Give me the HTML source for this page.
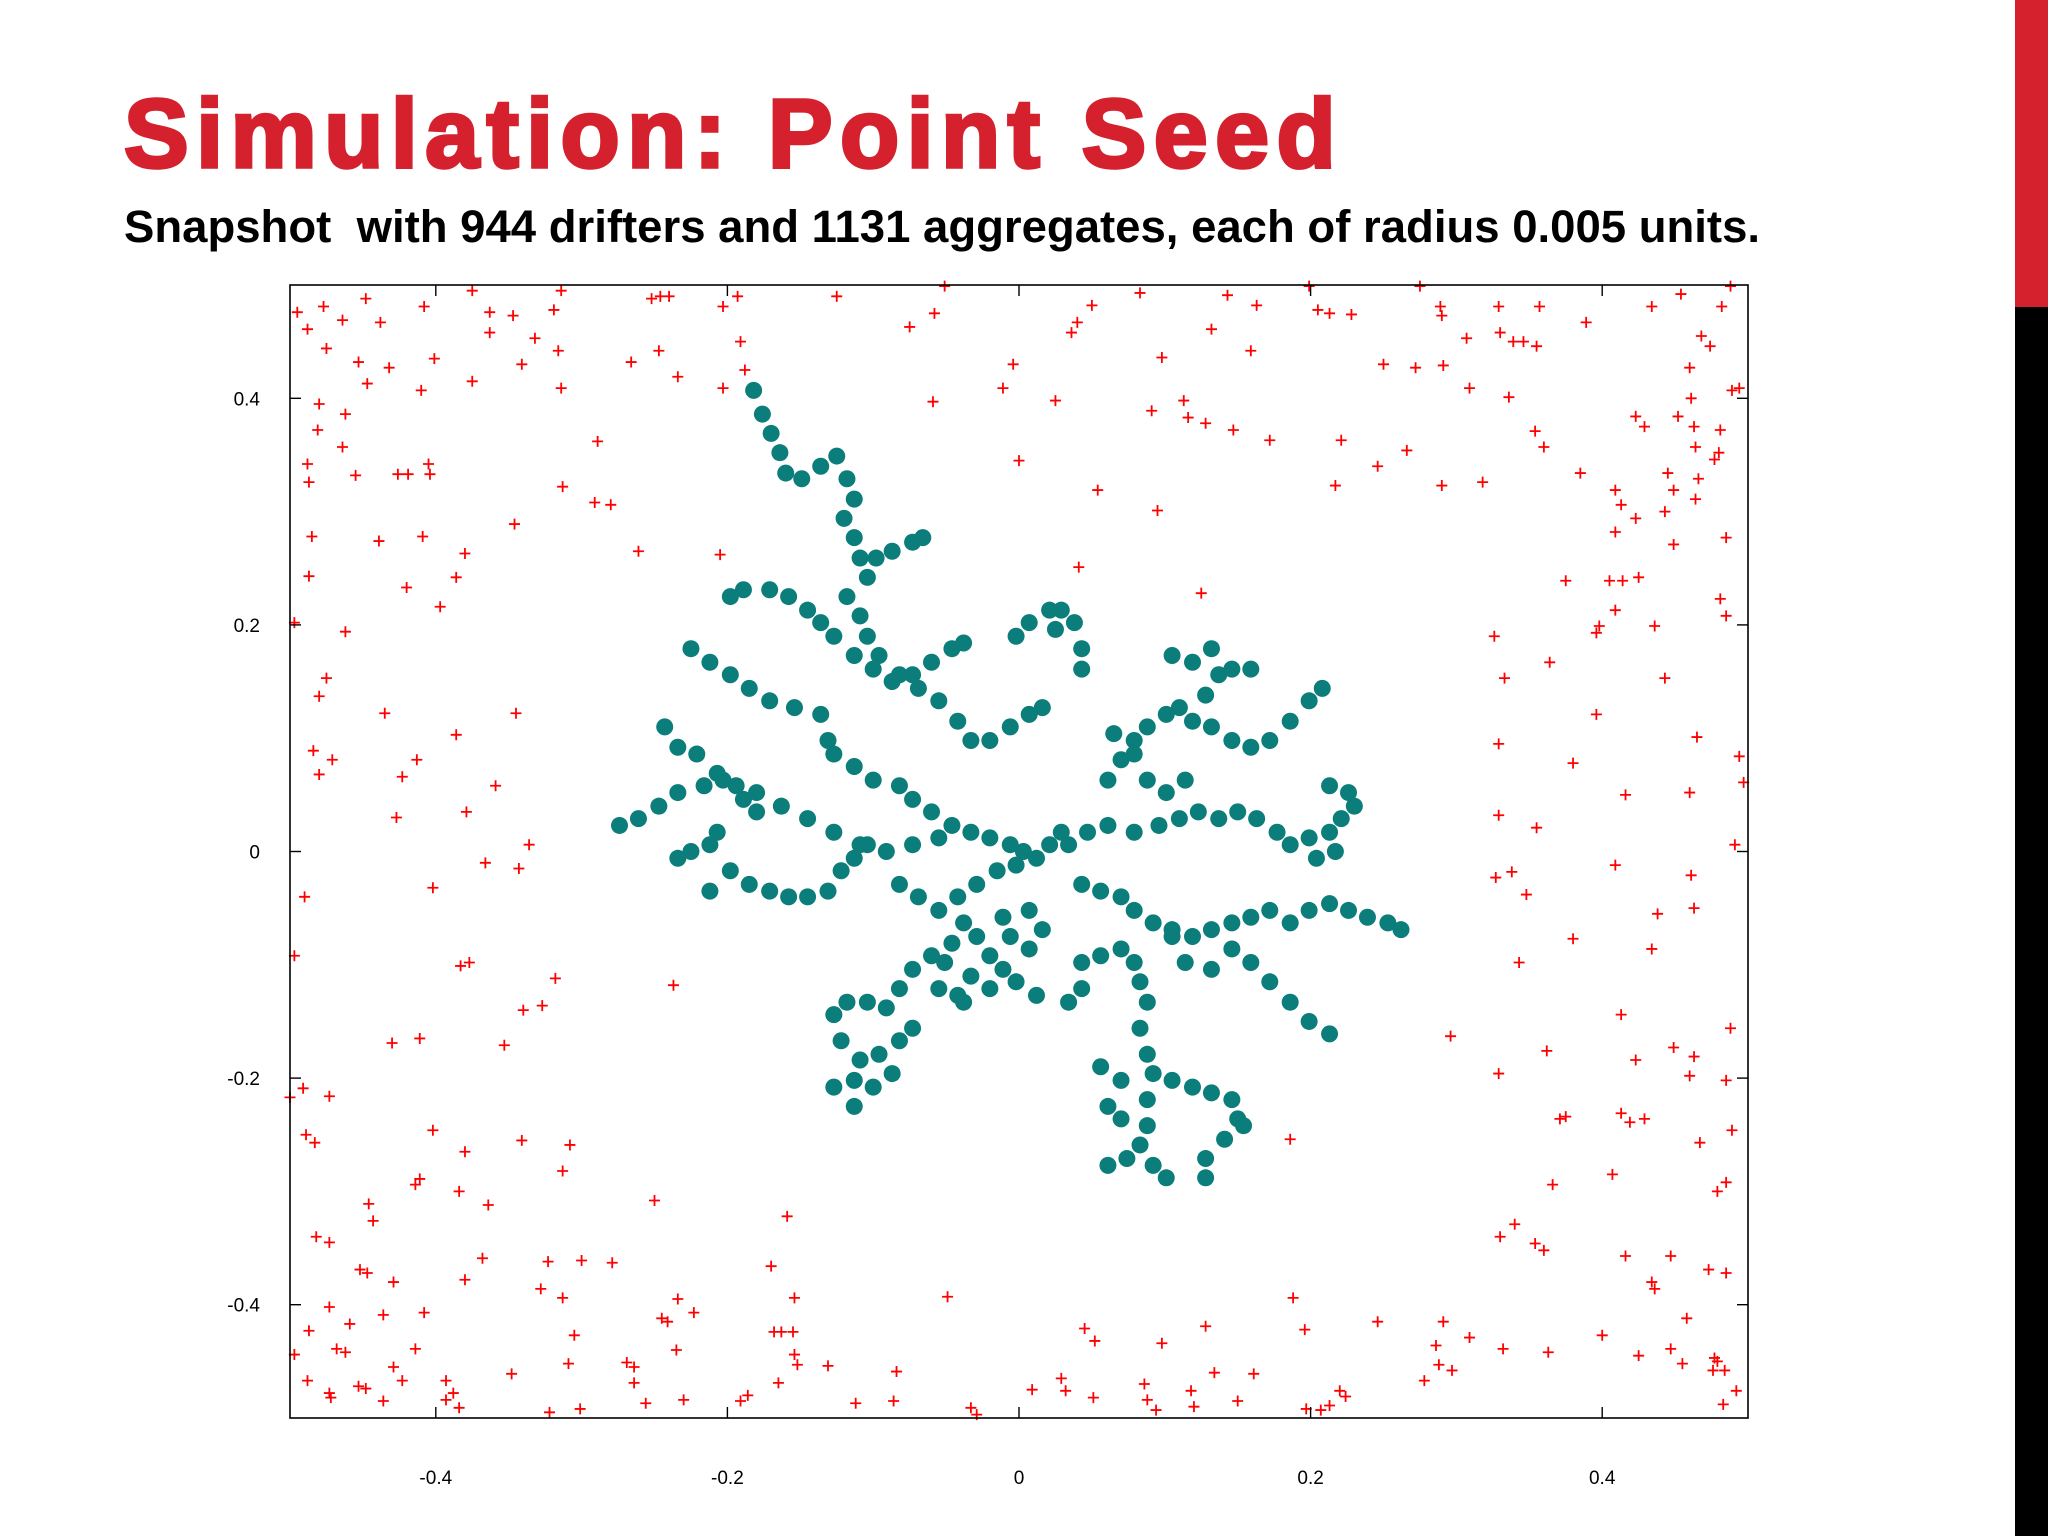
<!DOCTYPE html>
<html><head><meta charset="utf-8">
<style>
html,body{margin:0;padding:0;background:#fff;}
body{width:2048px;height:1536px;position:relative;overflow:hidden;font-family:"Liberation Sans",Arial,sans-serif;}
#title{position:absolute;left:124px;top:85px;font-size:97px;font-weight:bold;color:#d4212d;letter-spacing:7.4px;line-height:1;white-space:pre;margin:0;-webkit-text-stroke:3.5px #d4212d;}
#subtitle{position:absolute;left:124px;top:204px;font-size:45.5px;font-weight:bold;color:#000;white-space:pre;line-height:1;margin:0;}
#bar-red{position:absolute;left:2015px;top:0;width:33px;height:307px;background:#d4212d;}
#bar-black{position:absolute;left:2015px;top:307px;width:33px;height:1229px;background:#000;}
svg{position:absolute;left:0;top:0;}
</style></head>
<body>
<h1 id="title">Simulation: Point Seed</h1>
<p id="subtitle">Snapshot  with 944 drifters and 1131 aggregates, each of radius 0.005 units.</p>
<div id="bar-red"></div>
<div id="bar-black"></div>
<svg id="chart" width="2048" height="1536"></svg>
<script>
const xTicks=[-0.4,-0.2,0,0.2,0.4];
const yTicks=[-0.4,-0.2,0,0.2,0.4];
const xTickLabels=["-0.4","-0.2","0","0.2","0.4"];
const yTickLabels=["-0.4","-0.2","0","0.2","0.4"];
const aggX=[-.182,-.176,-.170,-.164,-.160,-.149,-.136,-.125,-.118,-.113,-.120,-.113,-.109,-.104,-.098,-.087,-.073,-.066,-.118,-.109,-.104,-.096,-.082,-.069,-.055,-.042,-.033,-.020,-.006,.007,.016,-.002,.007,.021,.029,.038,.043,.043,.025,
-.198,-.189,-.171,-.158,-.145,-.136,-.127,-.113,-.100,-.087,-.073,-.060,-.046,-.038,
-.225,-.212,-.198,-.185,-.171,-.154,-.136,-.131,-.127,-.113,-.100,-.082,-.073,-.060,-.046,-.033,-.020,-.006,.003,
-.243,-.234,-.221,-.207,-.194,-.180,-.163,-.145,-.127,-.109,-.091,-.073,-.055,
-.274,-.261,-.247,-.234,-.216,-.203,-.189,-.180,-.234,-.225,-.212,-.207,-.212,-.198,
-.185,-.171,-.158,-.145,-.131,-.122,-.113,-.104,
-.082,-.069,-.055,-.042,-.029,-.015,-.002,.012,.021,.029,-.038,-.029,-.020,-.011,.007,.016,.007,-.011,-.046,-.060,-.073,-.082,-.091,-.104,-.118,-.127,-.122,-.109,-.096,-.082,-.073,-.087,-.100,-.113,-.127,-.113,-.055,-.042,-.033,-.002,.012,-.006,-.051,-.038,-.020,
.034,.047,.061,.079,.096,.110,.123,.137,.150,.163,.177,.186,.199,.213,.221,.230,.226,.213,.204,.217,
.061,.070,.079,.088,.101,.110,.119,.132,.146,.159,.172,.186,.199,.208,.105,.119,.132,.137,.146,.159,.128,.065,.079,.088,.101,.114,
.043,.056,.070,.079,.092,.105,.119,.132,.146,.159,.172,.186,.199,.213,.226,.239,.253,.262,.146,.159,.172,.186,.199,.213,
.043,.056,.070,.079,.083,.088,.083,.088,.092,.088,.088,.083,.074,.061,.092,.101,.056,.070,.061,.070,.105,.119,.132,.146,.150,.141,.128,.128,.154,.034,.043,.105,.114,.132];
const aggY=[.407,.386,.369,.352,.334,.329,.340,.349,.329,.311,.294,.277,.259,.242,.259,.265,.273,.277,.225,.208,.190,.173,.156,.144,.133,.115,.098,.098,.110,.121,.127,.190,.202,.213,.213,.202,.179,.161,.196,
.225,.231,.231,.225,.213,.202,.190,.173,.161,.150,.156,.167,.179,.184,
.179,.167,.156,.144,.133,.127,.121,.098,.086,.075,.063,.058,.046,.035,.023,.017,.012,.006,0,
.110,.092,.086,.069,.058,.052,.040,.029,.017,.006,0,.006,.012,
.023,.029,.040,.052,.058,.063,.046,.035,-.006,0,.006,.017,-.035,-.017,
-.029,-.035,-.040,-.040,-.035,-.017,-.006,.006,
-.029,-.040,-.052,-.040,-.029,-.017,-.012,-.006,.006,.017,-.063,-.075,-.092,-.104,-.086,-.069,-.052,-.058,-.081,-.092,-.104,-.121,-.138,-.133,-.133,-.144,-.167,-.184,-.179,-.167,-.156,-.196,-.208,-.202,-.208,-.225,-.121,-.127,-.110,-.115,-.127,-.075,-.098,-.133,-.121,
.006,.017,.023,.017,.023,.029,.035,.029,.035,.029,.017,.006,.012,.017,.029,.040,.052,.058,-.006,0,
.063,.081,.098,.110,.121,.127,.115,.110,.098,.092,.098,.115,.133,.144,.173,.167,.179,.156,.161,.161,.138,.104,.086,.063,.052,.063,
-.029,-.035,-.040,-.052,-.063,-.069,-.075,-.069,-.063,-.058,-.052,-.063,-.052,-.046,-.052,-.058,-.063,-.069,-.086,-.098,-.115,-.133,-.150,-.161,
-.098,-.092,-.086,-.098,-.115,-.133,-.156,-.179,-.196,-.219,-.242,-.259,-.271,-.277,-.277,-.288,-.190,-.202,-.225,-.236,-.202,-.208,-.213,-.219,-.236,-.254,-.271,-.288,-.242,-.133,-.121,-.075,-.098,-.104];
const driftX=[-.495,-.488,-.477,-.464,-.448,-.438,-.408,-.375,-.363,-.347,-.314,-.319,-.475,-.453,-.432,-.401,-.363,-.332,-.316,-.341,-.447,-.410,-.375,-.314,-.480,-.462,-.481,-.464,-.488,-.455,-.426,-.419,-.405,-.404,-.487,-.313,-.289,-.291,-.280,-.346,-.485,-.439,-.409,-.380,-.261,-.487,-.420,-.386,-.397,-.497,-.462,-.205,-.475,-.480,-.435,-.345,-.484,-.471,-.480,-.413,-.423,-.386,-.359,-.427,-.379,-.336,-.366,-.343,-.490,-.402,-.497,-.377,-.383,-.318,-.340,-.327,-.237,-.430,-.411,-.353,-.500,-.491,-.473,-.489,-.483,-.402,-.380,-.411,-.414,-.384,-.364,-.341,-.308,-.313,-.446,-.443,-.482,-.473,-.250,-.159,-.452,-.447,-.429,-.368,-.323,-.300,-.279,-.328,-.313,-.170,-.154,-.049,-.473,-.459,-.487,-.436,-.408,-.380,-.305,-.245,-.234,-.223,-.241,-.168,-.163,-.155,-.497,-.468,-.462,-.414,-.429,-.423,-.453,-.448,-.473,-.488,-.348,-.309,-.269,-.264,-.235,-.154,-.152,-.131,-.084,-.393,-.388,-.393,-.472,-.436,-.384,-.256,-.230,-.264,-.186,-.191,-.112,-.086,-.165,-.322,-.301,-.033,-.029,
-.252,-.246,-.240,-.203,-.193,-.125,-.075,-.058,-.051,-.203,-.188,-.266,-.247,-.234,-.191,-.059,-.011,-.004,.025,.036,.040,.050,.083,.054,0,.041,.095,.143,.163,.199,.205,.213,.228,.275,.289,.290,.329,.357,.389,.307,.330,.339,.346,.355,.250,.272,.291,.309,.336,.113,.116,.128,.147,.098,.159,.132,.172,.221,.246,.266,.290,.318,.217,.091,.125,
.434,.454,.482,.488,.468,.474,.460,.489,.494,.461,.452,.423,.429,.463,.481,.464,.480,.477,.354,.360,.385,.409,.413,.423,.445,.449,.464,.443,.466,.485,.449,.409,.375,.405,.414,.425,.409,.398,.396,.436,.481,.485,.326,.364,.333,.443,.396,.329,.465,.494,.380,.497,.416,.460,.329,.355,.409,.461,.491,.327,.338,.348,.438,.463,.380,.434,.343,.413,.488,.296,.362,.329,.423,.449,.463,.460,.485,.371,.375,.413,.419,.429,.186,.467,.489,.366,.407,.485,.479,.340,.330,.354,.360,.416,.447,.434,.436,.473,.485,.188,.196,.246,.291,.309,.286,.332,.363,.400,.425,.447,.458,.455,.477,.479,.484,.476,.492,.483,.278,.288,.297,.220,.224,.213,.207,.197,.161,.134,.150,.120,.118,.098,.086,.088,.094,.052,.045,.032,.051,.009,.029,.128];
const driftY=[.476,.461,.481,.469,.488,.467,.481,.495,.476,.473,.495,.478,.444,.432,.427,.435,.458,.453,.442,.430,.413,.407,.415,.409,.395,.386,.372,.357,.342,.332,.333,.333,.342,.333,.326,.322,.362,.308,.306,.289,.278,.274,.278,.263,.265,.243,.233,.242,.216,.202,.194,.262,.153,.137,.122,.122,.089,.081,.068,.081,.066,.103,.058,.030,.035,.006,-.010,-.015,-.040,-.032,-.092,-.098,-.101,-.112,-.140,-.136,-.118,-.169,-.165,-.171,-.217,-.209,-.216,-.250,-.257,-.246,-.265,-.289,-.294,-.300,-.312,-.255,-.259,-.282,-.311,-.326,-.340,-.345,-.308,-.322,-.369,-.372,-.380,-.359,-.362,-.361,-.363,-.386,-.394,-.366,-.394,-.393,-.402,-.417,-.423,-.409,-.407,-.378,-.427,-.412,-.395,-.407,-.415,-.424,-.424,-.424,-.444,-.439,-.442,-.439,-.455,-.467,-.472,-.474,-.478,-.467,-.461,-.452,-.451,-.455,-.440,-.444,-.453,-.454,-.459,-.467,-.478,-.484,-.482,-.485,-.491,-.487,-.484,-.469,-.480,-.485,-.487,-.485,-.469,-.495,-.492,-.491,-.497,
.488,.490,.490,.481,.490,.490,.463,.475,.499,.409,.425,.432,.442,.419,.450,.397,.409,.430,.398,.458,.467,.482,.493,.319,.345,.251,.301,.491,.482,.499,.478,.475,.474,.499,.481,.473,.481,.481,.467,.453,.458,.450,.450,.446,.430,.427,.429,.409,.401,.398,.383,.378,.372,.436,.442,.461,.363,.363,.340,.354,.323,.326,.323,.389,.228,
.481,.492,.481,.499,.455,.446,.427,.407,.409,.400,.384,.384,.375,.375,.372,.357,.352,.346,.371,.357,.334,.319,.306,.294,.334,.319,.311,.300,.329,.277,.271,.282,.239,.239,.239,.242,.213,.199,.193,.199,.223,.208,.190,.167,.153,.153,.121,.095,.101,.084,.078,.061,.050,.052,.032,.021,-.012,-.021,.006,-.023,-.018,-.038,-.055,-.050,-.077,-.086,-.098,-.144,-.156,-.163,-.176,-.196,-.184,-.173,-.181,-.198,-.202,-.236,-.234,-.231,-.239,-.236,-.254,-.257,-.246,-.294,-.285,-.292,-.300,-.329,-.340,-.346,-.352,-.357,-.357,-.380,-.386,-.369,-.372,-.394,-.422,-.415,-.415,-.429,-.436,-.439,-.442,-.427,-.445,-.439,-.412,-.452,-.447,-.450,-.458,-.458,-.476,-.488,-.467,-.453,-.458,-.476,-.481,-.489,-.493,-.492,-.461,-.460,-.485,-.490,-.476,-.434,-.470,-.484,-.493,-.432,-.421,-.476,-.482,-.475,-.465,-.419];

const L=290,R=1748,T=285,B=1418;
const xMin=-0.5,xMax=0.5,yMin=-0.5,yMax=0.5;
function sx(v){return L+(v-xMin)/(xMax-xMin)*(R-L);}
function sy(v){return B-(v-yMin)/(yMax-yMin)*(B-T);}
const NS="http://www.w3.org/2000/svg";
const svg=document.getElementById('chart');
function mk(tag,attrs,parent){const e=document.createElementNS(NS,tag);for(const k in attrs)e.setAttribute(k,attrs[k]);(parent||svg).appendChild(e);return e;}

const gD=mk('g',{stroke:'#ff0000','stroke-width':'1.8',fill:'none'});


let d='';
for(let i=0;i<driftX.length;i++){const x=sx(driftX[i]),y=sy(driftY[i]);d+=`M${x-5.5},${y}H${x+5.5}M${x},${y-5.5}V${y+5.5}`;}
const pD=mk('path',{d:d},gD);



const gA=mk('g',{fill:'#0b7d7a'});


for(let i=0;i<aggX.length;i++){
  const c=mk('circle',{cx:sx(aggX[i]),cy:sy(aggY[i]),r:8.5},gA);
  
  
}

const fr=mk('rect',{x:L,y:T,width:R-L,height:B-T,fill:'none',stroke:'#000','stroke-width':'1.6'});



const gT=mk('g',{stroke:'#000','stroke-width':'1.4'});


const gL=mk('g',{'font-family':'Liberation Sans, Arial, sans-serif','font-size':'19',fill:'#000'});


xTicks.forEach((v,i)=>{
  const x=sx(v);
  mk('line',{x1:x,y1:B,x2:x,y2:B-11},gT);
  mk('line',{x1:x,y1:T,x2:x,y2:T+11},gT);
  const t=mk('text',{x:x,y:1484,'text-anchor':'middle'},gL);
  t.textContent=xTickLabels[i];
  
  
});
yTicks.forEach((v,i)=>{
  const y=sy(v);
  mk('line',{x1:L,y1:y,x2:L+11,y2:y},gT);
  mk('line',{x1:R,y1:y,x2:R-11,y2:y},gT);
  const t=mk('text',{x:260,y:y+7,'text-anchor':'end'},gL);
  t.textContent=yTickLabels[i];
  
  
});
</script>
</body></html>
